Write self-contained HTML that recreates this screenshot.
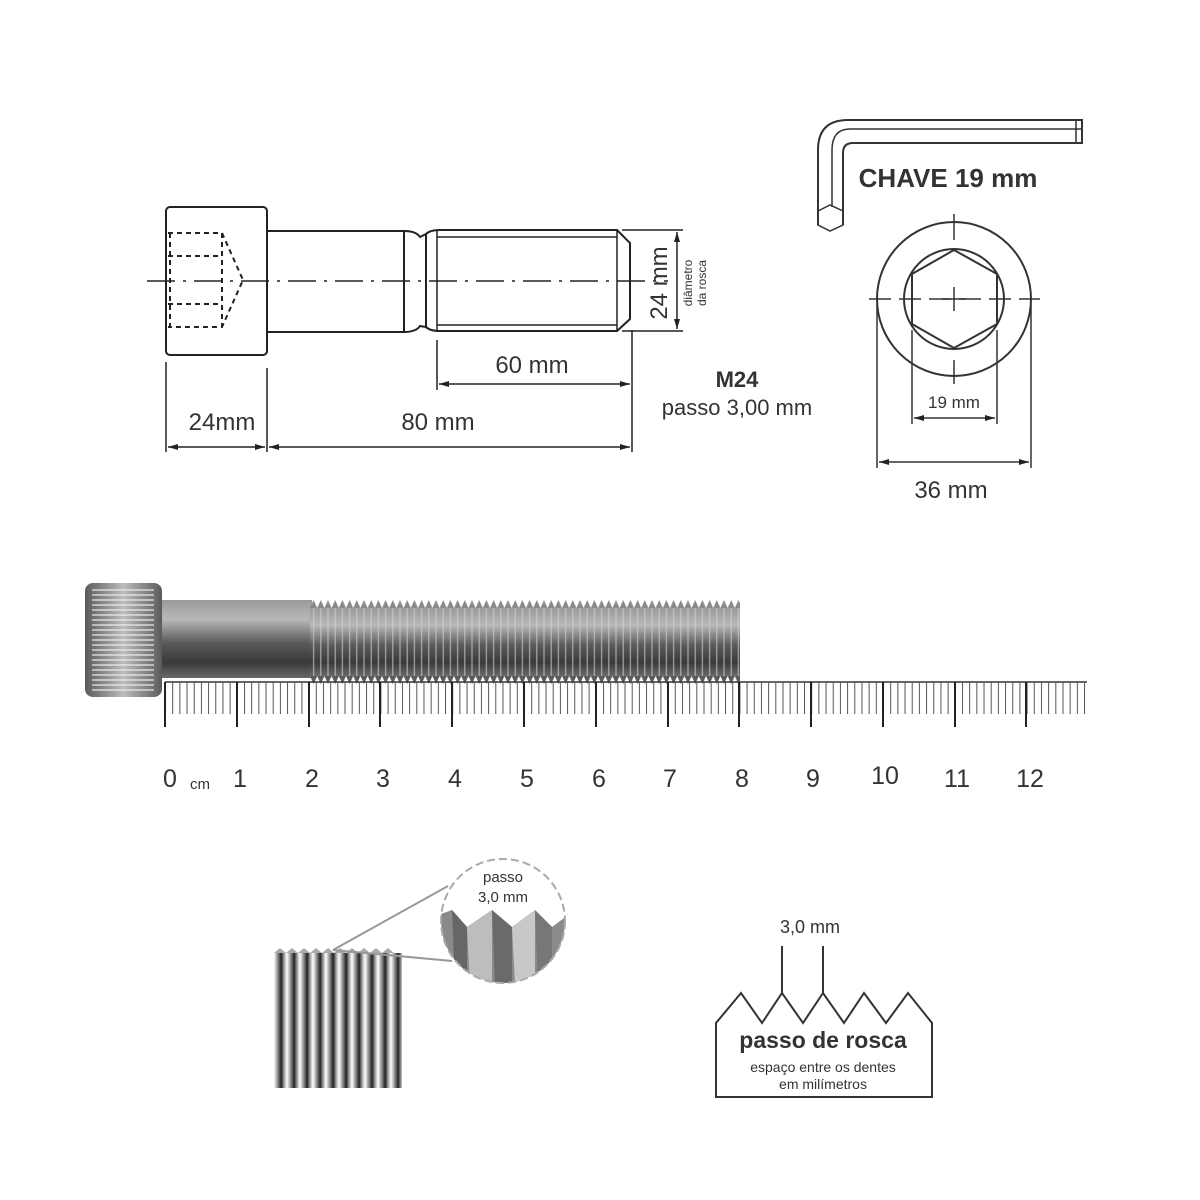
<!DOCTYPE html>
<html><head><meta charset="utf-8"><style>
html,body{margin:0;padding:0;background:#fff}
svg{display:block}
text{font-family:"Liberation Sans",sans-serif;fill:#333}
</style></head><body>
<svg width="1200" height="1200" viewBox="0 0 1200 1200" xmlns="http://www.w3.org/2000/svg">
<defs>
<marker id="ar" viewBox="0 0 10 6" refX="10" refY="3" markerWidth="10" markerHeight="6" orient="auto-start-reverse" markerUnits="userSpaceOnUse"><path d="M0,0L10,3L0,6z" fill="#222"/></marker>
<linearGradient id="gv" x1="0" y1="0" x2="0" y2="1">
<stop offset="0" stop-color="#9a9a9a"/><stop offset="0.25" stop-color="#b8b8b8"/><stop offset="0.55" stop-color="#5a5a5a"/><stop offset="0.8" stop-color="#3a3a3a"/><stop offset="1" stop-color="#6a6a6a"/></linearGradient>
<linearGradient id="gh" x1="0" y1="0" x2="1" y2="0">
<stop offset="0" stop-color="#5a5a5a"/><stop offset="0.5" stop-color="#bdbdbd"/><stop offset="1" stop-color="#5a5a5a"/></linearGradient>
<pattern id="thr" x="310" y="0" width="7.2" height="200" patternUnits="userSpaceOnUse">
<line x1="3.6" y1="0" x2="3.6" y2="200" stroke="#d0d0d0" stroke-width="1.2" opacity="0.7"/>
</pattern>
<pattern id="teethT" x="310" y="600" width="7.2" height="8" patternUnits="userSpaceOnUse">
<path d="M0,8 L3.6,0 L7.2,8 Z" fill="#8a8a8a"/>
</pattern>
<pattern id="teethB" x="310" y="676" width="7.2" height="8" patternUnits="userSpaceOnUse">
<path d="M0,0 L3.6,8 L7.2,0 Z" fill="#5a5a5a"/>
</pattern>
<pattern id="mm" x="165" y="0" width="7.18" height="50" patternUnits="userSpaceOnUse">
<line x1="0.5" y1="0" x2="0.5" y2="50" stroke="#555" stroke-width="1"/>
</pattern>
<pattern id="knurl" x="0" y="588" width="10" height="5" patternUnits="userSpaceOnUse">
<line x1="0" y1="2" x2="10" y2="2" stroke="#eee" stroke-width="1.2"/>
</pattern>
<linearGradient id="gs" x1="0" y1="0" x2="1" y2="0">
<stop offset="0" stop-color="#fff"/><stop offset="0.3" stop-color="#888"/><stop offset="0.55" stop-color="#222"/><stop offset="0.8" stop-color="#aaa"/><stop offset="1" stop-color="#fff"/></linearGradient>
<pattern id="stripe" x="274" y="0" width="13" height="300" patternUnits="userSpaceOnUse">
<rect width="13" height="300" fill="url(#gs)"/>
</pattern>
<clipPath id="mag"><circle cx="503" cy="921" r="62"/></clipPath>
</defs>

<g fill="none" stroke="#222" stroke-width="2">
<rect x="166" y="207" width="101" height="148" rx="4"/>
<path d="M267,231 L404,231 Q416,231 420,237 L426,234 Q430,230 440,230 L617,230 L630,243 L630,319 L617,331 L440,331 Q430,331 426,327 L420,326 Q416,332 404,332 L267,332"/>
<line x1="404" y1="231" x2="404" y2="332"/>
<line x1="426" y1="234" x2="426" y2="327"/>
<line x1="437" y1="230" x2="437" y2="331" stroke-width="1.5"/>
<line x1="437" y1="237" x2="617" y2="237" stroke-width="1.5"/>
<line x1="437" y1="325" x2="617" y2="325" stroke-width="1.5"/>
<line x1="617" y1="230" x2="617" y2="331" stroke-width="1.5"/>
</g>
<g fill="none" stroke="#222" stroke-width="2" stroke-dasharray="5,4">
<path d="M168,233 L222,233 L243,280 L222,327 L168,327"/>
<line x1="168" y1="256" x2="222" y2="256"/>
<line x1="168" y1="304" x2="222" y2="304"/>
<line x1="222" y1="233" x2="222" y2="327"/>
<line x1="170" y1="233" x2="170" y2="327"/>
</g>
<line x1="147" y1="281" x2="668" y2="281" stroke="#222" stroke-width="1.5" stroke-dasharray="28,8,3,8"/>
<g stroke="#222" stroke-width="1.5">
<line x1="166" y1="362" x2="166" y2="452"/>
<line x1="267" y1="368" x2="267" y2="452"/>
<line x1="632" y1="330" x2="632" y2="452"/>
<line x1="437" y1="340" x2="437" y2="390"/>
<line x1="168" y1="447" x2="265" y2="447" marker-start="url(#ar)" marker-end="url(#ar)"/>
<line x1="269" y1="447" x2="630" y2="447" marker-start="url(#ar)" marker-end="url(#ar)"/>
<line x1="439" y1="384" x2="630" y2="384" marker-start="url(#ar)" marker-end="url(#ar)"/>
<line x1="622" y1="230" x2="683" y2="230"/>
<line x1="622" y1="331" x2="683" y2="331"/>
<line x1="677" y1="232" x2="677" y2="329" marker-start="url(#ar)" marker-end="url(#ar)"/>
</g>
<text x="222" y="430" font-size="24" text-anchor="middle">24mm</text>
<text x="438" y="430" font-size="24" text-anchor="middle">80 mm</text>
<text x="532" y="373" font-size="24" text-anchor="middle">60 mm</text>
<text transform="translate(667,283) rotate(-90)" font-size="24" text-anchor="middle">24 mm</text>
<text transform="translate(692,283) rotate(-90)" font-size="12" text-anchor="middle">diâmetro</text>
<text transform="translate(706,283) rotate(-90)" font-size="12" text-anchor="middle">da rosca</text>
<text x="737" y="387" font-size="22" font-weight="bold" text-anchor="middle">M24</text>
<text x="737" y="415" font-size="22" text-anchor="middle">passo 3,00 mm</text>

<g fill="none" stroke="#333" stroke-width="2">
<path d="M818,225 L818,150 Q818,120 848,120 L1082,120 L1082,143 L853,143 Q843,143 843,153 L843,225"/>
<path d="M832,207 L832,150 Q832,129 850,129 L1082,129" stroke-width="1.5"/>
<path d="M818,211 L830,205 L843,211 L843,225 L830,231 L818,225 Z" stroke-width="1.5"/>
<line x1="1076" y1="120" x2="1076" y2="143" stroke-width="1.5"/>
</g>
<text x="948" y="187" font-size="26" font-weight="bold" text-anchor="middle">CHAVE 19 mm</text>
<g fill="none" stroke="#333" stroke-width="2">
<circle cx="954" cy="299" r="77"/>
<circle cx="954" cy="299" r="50"/>
<path d="M954,250 L997,274 L997,324 L954,348 L912,324 L912,274 Z"/>
</g>
<g stroke="#333" stroke-width="1.5">
<line x1="869" y1="299" x2="1040" y2="299" stroke-dasharray="22,8"/>
<line x1="954" y1="214" x2="954" y2="240"/>
<line x1="954" y1="360" x2="954" y2="384"/>
<line x1="942" y1="299" x2="966" y2="299"/>
<line x1="954" y1="287" x2="954" y2="311"/>
<line x1="912" y1="330" x2="912" y2="424"/>
<line x1="997" y1="330" x2="997" y2="424"/>
<line x1="877" y1="305" x2="877" y2="468"/>
<line x1="1031" y1="305" x2="1031" y2="468"/>
<line x1="914" y1="418" x2="995" y2="418" marker-start="url(#ar)" marker-end="url(#ar)"/>
<line x1="879" y1="462" x2="1029" y2="462" marker-start="url(#ar)" marker-end="url(#ar)"/>
</g>
<text x="954" y="408" font-size="17" text-anchor="middle">19 mm</text>
<text x="951" y="498" font-size="24" text-anchor="middle">36 mm</text>

<!-- bolt photo -->
<rect x="162" y="600" width="150" height="78" fill="url(#gv)"/>
<rect x="310" y="608" width="430" height="68" fill="url(#gv)"/>
<rect x="310" y="608" width="430" height="68" fill="url(#thr)"/>
<rect x="310" y="600" width="430" height="8" fill="url(#teethT)"/>
<rect x="310" y="676" width="430" height="8" fill="url(#teethB)"/>
<rect x="85" y="583" width="77" height="114" rx="8" fill="url(#gh)"/>
<rect x="92" y="588" width="62" height="104" fill="url(#knurl)"/>

<!-- ruler -->
<line x1="165" y1="682" x2="1087" y2="682" stroke="#333" stroke-width="1.5"/>
<rect x="165" y="682" width="922" height="32" fill="url(#mm)"/>
<g stroke="#222" stroke-width="2">
<line x1="165" y1="682" x2="165" y2="727"/><line x1="237" y1="682" x2="237" y2="727"/><line x1="309" y1="682" x2="309" y2="727"/><line x1="380" y1="682" x2="380" y2="727"/><line x1="452" y1="682" x2="452" y2="727"/><line x1="524" y1="682" x2="524" y2="727"/><line x1="596" y1="682" x2="596" y2="727"/><line x1="668" y1="682" x2="668" y2="727"/><line x1="739" y1="682" x2="739" y2="727"/><line x1="811" y1="682" x2="811" y2="727"/><line x1="883" y1="682" x2="883" y2="727"/><line x1="955" y1="682" x2="955" y2="727"/><line x1="1026" y1="682" x2="1026" y2="727"/>
</g>
<g font-size="25" text-anchor="middle">
<text x="170" y="787">0</text><text x="200" y="789" font-size="15">cm</text>
<text x="240" y="787">1</text><text x="312" y="787">2</text><text x="383" y="787">3</text><text x="455" y="787">4</text><text x="527" y="787">5</text><text x="599" y="787">6</text><text x="670" y="787">7</text><text x="742" y="787">8</text><text x="813" y="787">9</text><text x="885" y="784">10</text><text x="957" y="787">11</text><text x="1030" y="787">12</text>
</g>

<!-- thread close-up -->
<rect x="274" y="953" width="128" height="135" fill="url(#stripe)"/>
<path d="M274,953 l6,-5 l6,5 l6,-5 l6,5 l6,-5 l6,5 l6,-5 l6,5 l6,-5 l6,5 l6,-5 l6,5 l6,-5 l6,5 l6,-5 l6,5 l6,-5 l6,5 l6,-5 l6,5" fill="#aaa"/>
<line x1="333" y1="950" x2="448" y2="886" stroke="#999" stroke-width="2"/>
<line x1="333" y1="950" x2="452" y2="961" stroke="#999" stroke-width="2"/>
<circle cx="503" cy="921" r="62" fill="#fff"/>
<g clip-path="url(#mag)">
<path d="M430,985 L430,918 L452,910 L467,927 L492,910 L512,927 L535,910 L552,927 L575,910 L580,985 Z" fill="#8a8a8a"/>
<path d="M467,927 L470,985 L492,985 L492,910 Z" fill="#bdbdbd"/>
<path d="M512,927 L515,985 L535,985 L535,910 Z" fill="#c8c8c8"/>
<path d="M452,910 L455,985 L467,985 L467,927Z" fill="#666"/>
<path d="M492,910 L495,985 L512,985 L512,927Z" fill="#6a6a6a"/>
<path d="M535,910 L538,985 L552,985 L552,927Z" fill="#777"/>
</g>
<circle cx="503" cy="921" r="62" fill="none" stroke="#aaa" stroke-width="2" stroke-dasharray="8,4"/>
<text x="503" y="882" font-size="15" text-anchor="middle">passo</text>
<text x="503" y="902" font-size="15" text-anchor="middle">3,0 mm</text>

<path d="M716,1097 L716,1023 L741,993 L762,1023 L782,993 L803,1023 L823,993 L844,1023 L864,993 L886,1023 L908,993 L932,1023 L932,1097 Z" fill="none" stroke="#333" stroke-width="2"/>
<line x1="782" y1="946" x2="782" y2="993" stroke="#333" stroke-width="2"/>
<line x1="823" y1="946" x2="823" y2="993" stroke="#333" stroke-width="2"/>
<text x="810" y="933" font-size="18" text-anchor="middle">3,0 mm</text>
<text x="823" y="1048" font-size="23" font-weight="bold" text-anchor="middle">passo de rosca</text>
<text x="823" y="1072" font-size="14" text-anchor="middle">espaço entre os dentes</text>
<text x="823" y="1089" font-size="14" text-anchor="middle">em milímetros</text>
</svg>
</body></html>
